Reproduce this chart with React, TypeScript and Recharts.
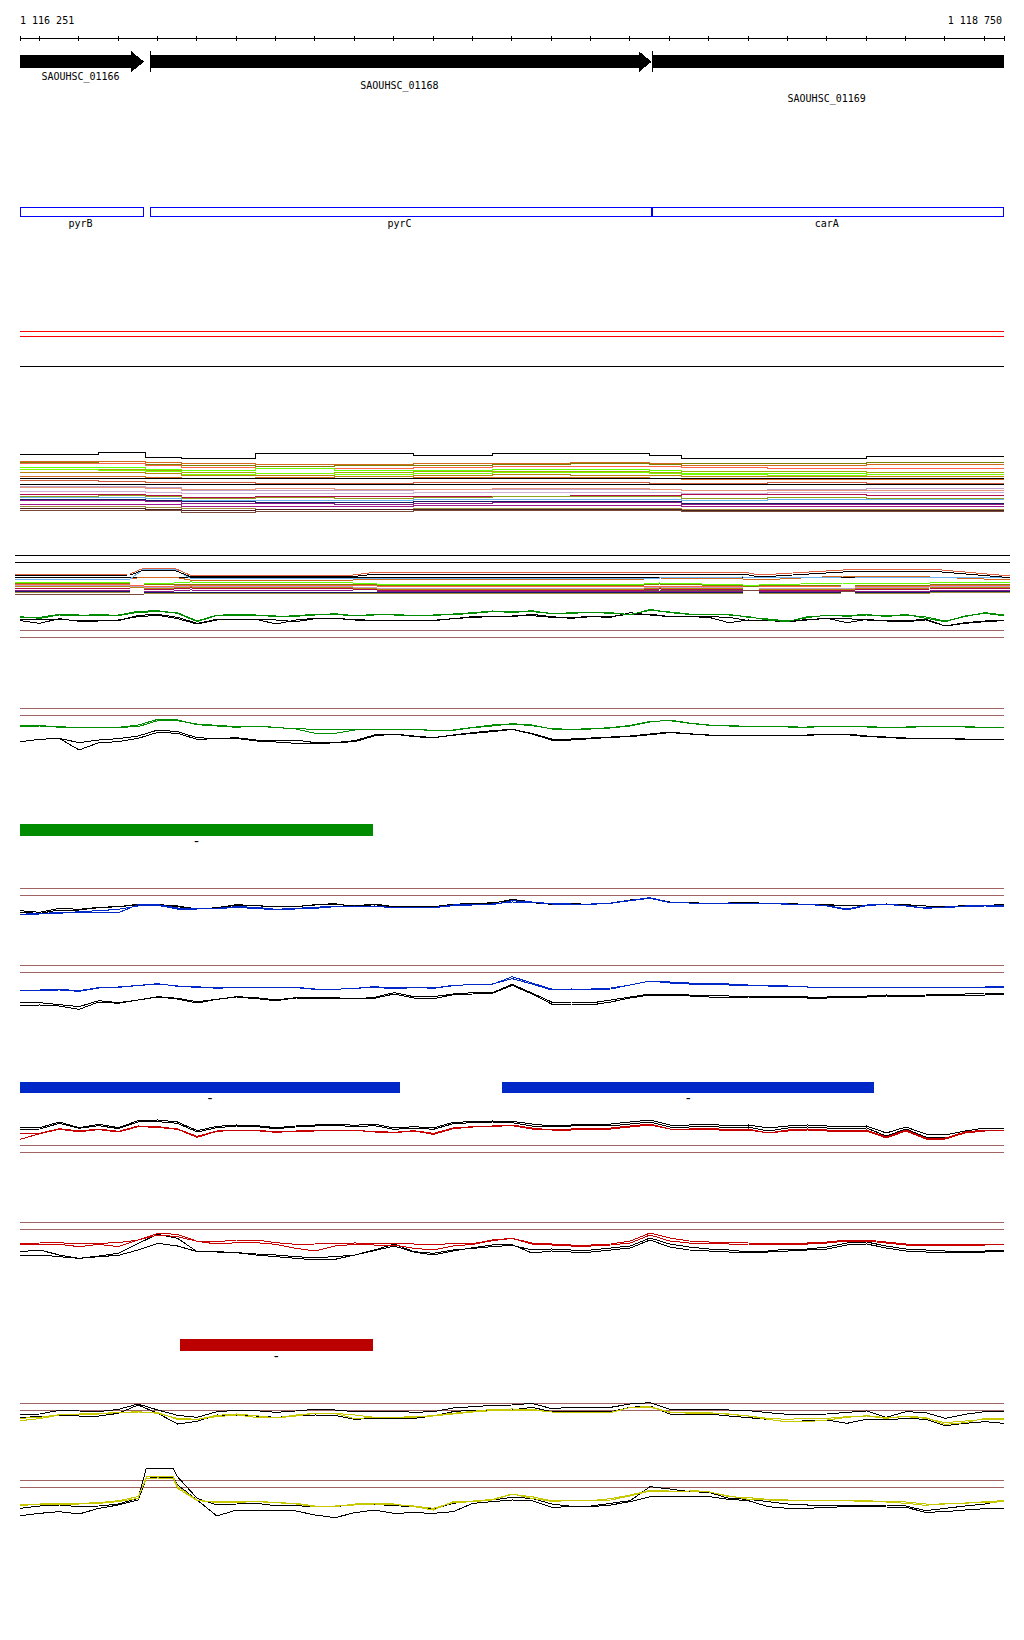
import React from 'react';
import { LineChart, Line, XAxis, YAxis, ReferenceLine, ReferenceArea } from 'recharts';

const START = 1116251;
const END = 1118750;
const WIDTH = 1024;

const BROWN = '#a06464';
const GREEN = '#008c00';
const BLUE = '#0028c8';
const RED = '#c80000';
const YELLOW = '#c8c800';

// ruler ticks (bp)
const RULER_TICKS = [START, ...Array.from({ length: 25 }, (_, i) => 1116300 + i * 100), END];

// genes
const GENE_IDS = ['SAOUHSC_01166', 'SAOUHSC_01168', 'SAOUHSC_01169'];
const GENE_SYMBOLS = ['pyrB', 'pyrC', 'carA'];
const GENE_STARTS = [1116251, 1116582, 1117857];
const GENE_ENDS = [1116566, 1117855, 1118750];
const GENE_LABEL_DY = [28.5, 37.5, 50.5];

// peak calls
const GREEN_PEAK_STARTS = [1116251];
const GREEN_PEAK_ENDS = [1117147];
const BLUE_PEAK_STARTS = [1116251, 1117475];
const BLUE_PEAK_ENDS = [1117216, 1118421];
const RED_PEAK_STARTS = [1116657];
const RED_PEAK_ENDS = [1117147];

// 50 bp bins
const BINS = Array.from({ length: 51 }, (_, i) => Math.min(START + i * 50, END));
const YEL2_POS = [...BINS.slice(0, 7), 1116572, BINS[7], 1116640, ...BINS.slice(8)];

// top thresholds
const TOP_LEVELS = [38.5, 33.5, 3.5];
const TOP_LEVEL_COLORS = ['#ff0000', '#ff0000', '#000000'];

// multi-sample track 1 (step positions)
const MC1_POS = [1116251, 1116450, 1116570, 1116660, 1116850, 1117050, 1117250, 1117450, 1117650, 1117850, 1117930, 1118150, 1118400, 1118750];
const mc1Black1 = [66, 68, 63, 62, 66.5, 66.5, 64.5, 66.5, 66.5, 65, 62, 62, 64, 64];
const mc1Chocolate = [59, 59, 58, 57, 56, 56, 57, 57, 58, 57, 55, 55, 56, 57];
const mc1Olive = [58, 57, 56, 55, 54, 55, 55, 56, 57, 56, 57, 57, 58, 58];
const mc1Tomato = [56.5, 56.5, 55, 53, 52, 52, 53, 54, 54, 54, 53, 52, 52, 53];
const mc1Green = [53, 53, 51, 50, 52, 50, 50, 51, 51, 50, 47, 47, 48, 48];
const mc1YellowGreen = [51, 51, 50, 48, 47, 48, 49, 49, 49, 48, 49, 49, 48, 48];
const mc1LawnGreen = [50.5, 50, 49, 46, 47, 46, 47, 48, 48, 47, 46, 45, 46, 46];
const mc1Goldenrod = [48, 48, 47, 45, 45, 44, 45, 46, 45, 45, 44, 44, 44, 45];
const mc1Sienna = [44, 44, 43, 42, 43, 42, 43, 43, 43, 42, 41, 41, 41, 41];
const mc1Black2 = [41.5, 41.5, 41.5, 41.5, 41.5, 41.5, 41.5, 41.5, 41.5, 41.5, 41.5, 41.5, 41.5, 41.5];
const mc1Rust = [39.5, 39, 38, 38, 37, 37, 38, 38, 38, 37, 37, 38, 37, 37];
const mc1Black3 = [35.5, 35.5, 35.5, 35.5, 35.5, 35.5, 35.5, 35.5, 35.5, 35.5, 35.5, 35.5, 35.5, 35.5];
const mc1Lavender = [34, 34, 33, 30, 30, 30, 31, 31, 31, 31, 30, 31, 32, 32];
const mc1Salmon = [33, 33, 32, 31, 32, 31, 31, 32, 32, 31, 30, 30, 30, 30];
const mc1Thistle = [29, 29, 28, 27, 27, 27, 28, 28, 28, 28, 27, 28, 28, 28];
const mc1Crimson = [26, 26, 25, 23, 24, 24, 24, 24, 25, 25, 26, 26, 25, 25];
const mc1Drab = [24, 25, 24, 22, 23, 22, 23, 24, 24, 24, 22, 23, 22, 23];
const mc1Sky = [22.5, 22.5, 22, 20, 20, 20, 21, 21, 21, 21, 20, 21, 21, 22];
const mc1Navy = [21, 21, 20, 19, 18, 18, 19, 19, 19, 19, 17, 17, 17, 18];
const mc1Purple = [20, 20, 19, 17, 17, 16, 17, 18, 18, 18, 16, 16, 16, 16];
const mc1Magenta = [16, 16, 16, 14, 14, 14, 15, 15, 15, 15, 14, 14, 14, 14];
const mc1Tan = [14, 14, 13, 12, 11, 11, 12, 12, 12, 12, 11, 11, 11, 11];
const mc1Maroon = [12, 12, 11, 10, 11, 11, 11, 11, 11, 11, 10, 10, 10, 10];
const mc1Brown = [10, 10, 9.5, 8, 9, 9, 10, 10, 10, 10, 9, 9, 9, 9];

// multi-sample track 2
const MC2_POS = [1116251, 1116540, 1116575, 1116650, 1116690, 1117100, 1117160, 1117830, 1117870, 1118080, 1118120, 1118330, 1118360, 1118550, 1118750];
const MC2_LEVELS = [49.5, 42.5];
const mc2Coral = [30.5, 31, 37, 37, 30, 30, 33, 33, 33, 33, 30, 35, 36, 36, 29];
const mc2Black1 = [29.5, 30, 35, 35, 28.5, 28.5, 31, 31, 31, 31, 28, 33, 34, 34, 27.3];
const mc2Sky = [26, 26, 36, 36, 27, 27, 27, 27, 27, 28, 27, 28, 28, 28, 27];
const mc2Black2 = [27.5, 27.5, 27.5, 27.5, 27.5, 27.5, 27.5, 27.5, 27.5, 27.5, 27.5, 27.5, 27.5, 27.5, 27.5];
const mc2Chocolate = [26, 26, 28, 28, 25, 25, 26, 26, 27, 26, 25, 29, 29, 28, 25];
const mc2Green = [23, 22, 22, 22, 23, 22, 21, 21, 22, 20, 20, 22, 22, 22, 23];
const mc2Olive = [22, 21, 21, 20, 21, 21, 20, 20, 21, 19, 19, 20, 20, 20, 21];
const mc2Tomato = [21, 20, 19, 19, 20, 20, 19, 19, 19, 18, 18, 19, 19, 19, 20];
const mc2Lavender = [20, 19, 18, 18, 19, 18, 17, 17, 18, 17, 17, 17, 17, 18, 19];
const mc2Goldenrod = [19, 18, 17, 17, 18, 17, 16, 16, 17, 16, 16, 16, 16, 17, 18];
const mc2Crimson = [17, 16, 16, 16, 17, 16, 15, 15, 16, 15, 15, 15, 15, 16, 17];
const mc2Purple = [15, 14, 14, 14, 15, 14, 14, 14, 14, 13, 13, 14, 14, 14, 15];
const mc2Navy = [14, 13, 13, 13, 13, 13, 13, 13, 13, 12, 12, 13, 13, 13, 14];
const mc2Tan = [13, 12, 12, 12, 12, 12, 12, 12, 12, 11, 11, 12, 12, 12, 13];
const mc2Brown = [11, 11, 11, 12, 13, 13, 13, 14, 15, 15, 14, 14, 14, 14, 14];

// green condition
const GREEN1_LEVELS = [43.5, 22.5];
const green1BlackA = [77, 75, 77, 73, 73, 73, 89, 92, 83, 65, 77, 78, 78, 75, 70, 79, 79, 77, 73, 73, 74, 74, 79, 85, 85, 87, 88, 83, 83, 85, 85, 93, 93, 85, 85, 85, 83, 73, 75, 70, 77, 79, 79, 75, 72, 73, 77, 57, 67, 72, 75];
const green1BlackB = [73, 65, 79, 71, 72, 75, 85, 89, 79, 63, 75, 77, 77, 63, 75, 80, 80, 75, 72, 73, 72, 73, 79, 83, 85, 85, 92, 85, 80, 85, 83, 97, 90, 85, 85, 83, 67, 75, 73, 70, 75, 80, 67, 77, 72, 70, 75, 57, 65, 70, 73];
const green1GreenA = [82, 83, 92, 90, 90, 90, 101, 103, 95, 70, 89, 92, 90, 85, 88, 92, 92, 87, 92, 90, 90, 88, 93, 97, 102, 97, 103, 93, 97, 97, 97, 90, 107, 97, 92, 92, 90, 85, 75, 70, 85, 88, 88, 92, 85, 92, 80, 70, 87, 95, 88];
const green1GreenB = [85, 80, 90, 88, 92, 88, 98, 100, 97, 72, 90, 90, 88, 87, 86, 90, 94, 88, 90, 92, 88, 90, 91, 95, 100, 99, 100, 95, 95, 98, 95, 92, 104, 99, 93, 90, 92, 83, 78, 72, 82, 90, 86, 90, 87, 90, 84, 72, 85, 97, 90];

const GREEN2_LEVELS = [154.5, 133.5];
const green2BlackA = [55, 62, 65, 52, 60, 64, 72, 90, 85, 67, 64, 67, 60, 60, 60, 52, 52, 58, 75, 78, 72, 67, 75, 82, 88, 92, 80, 63, 63, 66, 69, 72, 78, 84, 78, 75, 75, 75, 75, 75, 75, 78, 78, 72, 69, 66, 66, 66, 63, 63, 63];
const green2BlackB = [55, 62, 65, 30, 52, 55, 65, 83, 80, 62, 64, 65, 57, 54, 50, 48, 52, 55, 72, 78, 70, 67, 74, 80, 85, 92, 78, 60, 60, 64, 68, 70, 76, 82, 79, 74, 73, 74, 73, 74, 74, 77, 76, 70, 68, 64, 65, 64, 62, 61, 62];
const green2GreenA = [104, 104, 98, 97, 98, 98, 105, 122, 120, 106, 102, 98, 102, 97, 94, 92, 92, 92, 92, 92, 92, 89, 89, 97, 102, 109, 105, 93, 93, 93, 96, 102, 114, 120, 111, 105, 102, 102, 102, 99, 99, 102, 102, 99, 99, 99, 102, 102, 99, 99, 96];
const green2GreenB = [100, 102, 100, 97, 98, 98, 100, 118, 118, 108, 104, 100, 102, 98, 93, 80, 80, 90, 92, 92, 92, 88, 90, 98, 105, 108, 103, 94, 92, 94, 97, 104, 116, 118, 110, 104, 103, 101, 101, 100, 98, 101, 101, 100, 98, 98, 100, 101, 100, 98, 97];

// blue condition
const BLUE1_LEVELS = [109.5, 88.5];
const blue1BlackA = [43, 38, 50, 47, 53, 55, 60, 61, 57, 48, 52, 61, 58, 54, 55, 60, 62, 57, 63, 55, 55, 55, 62, 65, 65, 77, 69, 63, 63, 63, 66, 75, 81, 69, 66, 66, 66, 66, 66, 63, 63, 60, 57, 60, 63, 60, 57, 54, 57, 60, 60];
const blue1BlackB = [38, 35, 45, 45, 52, 55, 62, 62, 55, 48, 52, 59, 58, 55, 55, 61, 64, 55, 61, 53, 55, 55, 61, 63, 67, 73, 67, 62, 64, 62, 65, 73, 80, 68, 67, 65, 66, 67, 65, 64, 62, 61, 58, 60, 62, 61, 57, 55, 58, 59, 61];
const blue1BlueA = [30, 33, 35, 40, 43, 47, 57, 59, 48, 48, 50, 55, 53, 47, 50, 53, 57, 55, 57, 52, 52, 52, 58, 60, 61, 73, 69, 64, 63, 63, 66, 74, 82, 68, 66, 66, 66, 66, 66, 63, 63, 58, 48, 60, 63, 58, 51, 54, 57, 58, 57];
const blue1BlueB = [32, 35, 37, 38, 38, 37, 61, 61, 51, 48, 50, 52, 50, 45, 48, 50, 55, 57, 55, 53, 52, 52, 60, 61, 63, 69, 68, 63, 62, 62, 65, 73, 80, 67, 66, 65, 66, 65, 65, 62, 62, 57, 45, 58, 62, 57, 50, 53, 55, 57, 56];

const BLUE2_LEVELS = [163.5, 142.5];
const blue2BlackA = [52, 52, 46, 40, 58, 52, 60, 70, 65, 55, 62, 70, 67, 60, 67, 67, 67, 63, 68, 82, 70, 70, 78, 82, 82, 107, 81, 54, 54, 51, 60, 69, 78, 78, 75, 75, 72, 72, 72, 72, 69, 69, 72, 72, 75, 72, 75, 78, 78, 81, 81];
const blue2BlackB = [43, 45, 42, 32, 54, 50, 60, 69, 63, 51, 62, 69, 64, 58, 66, 65, 64, 63, 65, 78, 66, 64, 76, 78, 80, 104, 78, 48, 48, 45, 54, 66, 75, 75, 72, 69, 69, 69, 66, 69, 66, 66, 69, 69, 72, 69, 72, 75, 75, 75, 78];
const blue2BlueA = [90, 90, 92, 88, 97, 98, 104, 108, 102, 100, 95, 98, 98, 97, 97, 92, 92, 95, 100, 96, 98, 95, 103, 107, 107, 130, 111, 93, 93, 93, 96, 105, 117, 114, 111, 111, 108, 105, 105, 102, 99, 99, 99, 99, 99, 99, 99, 99, 99, 99, 102];
const blue2BlueB = [89, 89, 90, 86, 96, 99, 103, 109, 101, 98, 96, 98, 97, 97, 98, 93, 92, 95, 98, 94, 97, 96, 104, 106, 108, 124, 108, 90, 93, 90, 93, 105, 117, 111, 108, 108, 105, 105, 102, 102, 99, 99, 99, 99, 99, 99, 99, 99, 99, 99, 99];

// red condition
const RED1_LEVELS = [43.5, 22.5];
const red1BlackA = [96, 97, 114, 97, 107, 97, 118, 120, 114, 88, 101, 105, 103, 97, 102, 105, 108, 104, 108, 96, 100, 96, 113, 115, 117, 116, 108, 102, 105, 108, 108, 114, 120, 105, 105, 108, 102, 105, 96, 102, 105, 102, 99, 102, 81, 99, 78, 75, 87, 96, 96];
const red1BlackB = [92, 93, 110, 95, 103, 94, 114, 115, 110, 84, 97, 102, 100, 94, 99, 102, 104, 100, 103, 92, 96, 92, 109, 112, 114, 112, 102, 99, 102, 105, 102, 108, 114, 99, 99, 102, 96, 99, 87, 96, 99, 96, 93, 96, 72, 93, 69, 66, 81, 90, 90];
const red1RedA = [78, 80, 94, 87, 93, 86, 102, 100, 93, 71, 87, 90, 90, 84, 87, 88, 90, 88, 86, 83, 88, 80, 96, 100, 102, 105, 96, 90, 93, 96, 96, 102, 108, 93, 93, 96, 90, 93, 81, 90, 93, 90, 87, 90, 69, 90, 66, 66, 84, 90, 90];
const red1RedB = [62, 79, 92, 85, 91, 84, 100, 98, 92, 68, 86, 89, 88, 83, 86, 87, 89, 89, 84, 82, 87, 77, 94, 99, 101, 103, 93, 90, 90, 93, 93, 99, 105, 93, 90, 93, 87, 90, 81, 87, 90, 87, 84, 87, 66, 87, 63, 63, 81, 87, 90];

const RED2_LEVELS = [142.5, 121.5];
const red2BlackA = [55, 60, 45, 35, 42, 50, 80, 107, 95, 55, 55, 52, 48, 45, 40, 37, 40, 45, 60, 78, 55, 50, 60, 65, 70, 74, 60, 63, 60, 60, 66, 72, 96, 78, 69, 63, 60, 54, 57, 63, 63, 69, 81, 84, 72, 63, 60, 57, 57, 57, 60];
const red2BlackB = [45, 45, 40, 35, 40, 44, 60, 80, 72, 55, 54, 52, 45, 40, 35, 30, 32, 45, 58, 72, 54, 45, 57, 67, 75, 76, 51, 57, 54, 54, 60, 66, 90, 69, 60, 57, 54, 51, 54, 57, 60, 63, 75, 78, 66, 57, 54, 54, 54, 54, 57];
const red2RedA = [80, 81, 82, 78, 80, 82, 90, 110, 107, 86, 85, 90, 90, 82, 77, 78, 80, 81, 80, 80, 78, 75, 80, 79, 90, 95, 81, 78, 75, 75, 78, 87, 111, 96, 87, 84, 84, 81, 78, 81, 81, 84, 90, 90, 84, 78, 75, 78, 78, 78, 78];
const red2RedB = [75, 76, 77, 70, 77, 70, 90, 105, 100, 86, 78, 82, 82, 77, 65, 57, 72, 77, 75, 75, 65, 60, 72, 77, 88, 95, 78, 75, 72, 72, 75, 81, 105, 87, 81, 81, 78, 78, 75, 78, 78, 81, 87, 87, 81, 75, 72, 75, 75, 75, 78];

// yellow condition
const YEL1_LEVELS = [94.5, 73.5];
const yel1BlackA = [60, 63, 74, 72, 70, 77, 93, 75, 59, 53, 70, 74, 73, 68, 72, 77, 75, 70, 72, 72, 68, 70, 81, 85, 89, 90, 95, 79, 83, 83, 83, 93, 97, 77, 77, 77, 75, 73, 67, 62, 62, 63, 68, 72, 53, 70, 67, 50, 62, 70, 70];
const yel1BlackB = [53, 55, 59, 57, 57, 65, 90, 65, 33, 41, 60, 59, 57, 53, 57, 60, 59, 47, 50, 50, 50, 57, 70, 75, 75, 75, 83, 70, 70, 70, 70, 83, 87, 63, 63, 63, 57, 52, 47, 39, 43, 45, 35, 47, 45, 50, 47, 28, 35, 40, 35];
const yel1YelA = [43, 49, 60, 63, 65, 67, 70, 65, 50, 47, 59, 63, 58, 51, 57, 65, 65, 49, 53, 53, 53, 59, 65, 71, 77, 78, 77, 69, 67, 67, 68, 83, 83, 68, 68, 67, 62, 57, 50, 47, 50, 50, 55, 57, 50, 57, 52, 32, 37, 50, 50];
const yel1YelB = [50, 53, 61, 63, 63, 67, 69, 67, 47, 47, 55, 60, 53, 51, 60, 65, 65, 60, 53, 53, 55, 57, 63, 69, 73, 75, 75, 69, 67, 67, 67, 83, 85, 69, 65, 65, 63, 57, 47, 39, 40, 45, 53, 58, 52, 55, 50, 37, 42, 47, 47];

const YEL2_LEVELS = [148.5, 127.5];
const yel2BlackA = [65, 72, 75, 70, 72, 78, 95, 186, 186, 184, 160, 95, 75, 78, 80, 73, 73, 70, 70, 77, 77, 73, 70, 63, 80, 87, 90, 98, 95, 78, 71, 72, 80, 88, 130, 123, 115, 113, 95, 92, 85, 78, 75, 75, 75, 75, 75, 72, 58, 65, 72, 78, 90];
const yel2BlackB = [43, 50, 55, 48, 65, 75, 90, 155, 158, 158, 135, 90, 42, 60, 60, 60, 57, 45, 37, 52, 60, 50, 52, 50, 55, 80, 85, 90, 88, 68, 70, 70, 75, 85, 100, 100, 100, 100, 92, 88, 70, 65, 65, 68, 70, 70, 69, 68, 53, 55, 60, 64, 65];
const yel2YelA = [75, 78, 78, 78, 80, 85, 95, 160, 162, 160, 130, 90, 82, 83, 85, 82, 80, 72, 72, 75, 78, 76, 72, 65, 82, 85, 90, 107, 100, 88, 88, 88, 90, 102, 117, 117, 117, 115, 100, 97, 92, 90, 90, 90, 90, 88, 85, 84, 78, 78, 81, 82, 85];
const yel2YelB = [73, 78, 80, 80, 82, 88, 100, 155, 156, 155, 125, 88, 84, 85, 87, 82, 78, 70, 70, 78, 80, 78, 70, 60, 85, 87, 92, 108, 95, 86, 88, 88, 94, 105, 119, 120, 120, 114, 102, 92, 90, 88, 88, 88, 88, 85, 84, 80, 74, 80, 80, 85, 88];

type SeriesDef = { values: number[]; color: string };
const EDGE_DATA = [{ pos: START }, { pos: END }];
const MARGIN = { top: 0, right: 20, bottom: 0, left: 20 };

const formatBp = (v: number) => String(v).replace(/\B(?=(\d{3})+(?!\d))/g, ' ');

function Ruler() {
  const renderTick = (p: any) => {
    const v = p.payload.value;
    const edge = v === START || v === END;
    return (
      <g>
        <line x1={p.x} x2={p.x} y1={p.y - 2.5} y2={p.y + 2.5} stroke="#000" />
        {edge && (
          <text x={v === START ? p.x : p.x - 2} y={p.y - 14.5} textAnchor={v === START ? 'start' : 'end'} fontSize={10} fill="#000">
            {formatBp(v)}
          </text>
        )}
      </g>
    );
  };
  return (
    <div style={{ position: 'absolute', top: 0, left: 0 }}>
      <LineChart width={WIDTH} height={60} data={EDGE_DATA} margin={MARGIN}>
        <XAxis dataKey="pos" type="number" domain={[START, END]} ticks={RULER_TICKS} interval={0} height={21.5}
          tickSize={0} tickMargin={0} tickLine={false} axisLine={{ stroke: '#000' }} tick={renderTick} allowDataOverflow />
        <YAxis type="number" domain={[0, 1]} hide allowDataOverflow />
      </LineChart>
    </div>
  );
}

function GeneTrack() {
  return (
    <div style={{ position: 'absolute', top: 51, left: 0 }}>
      <LineChart width={WIDTH} height={60} data={EDGE_DATA} margin={MARGIN}>
        <XAxis dataKey="pos" type="number" domain={[START, END]} hide allowDataOverflow />
        <YAxis type="number" domain={[0, 60]} hide allowDataOverflow />
        {GENE_IDS.map((name, j) => {
          const arrow = GENE_ENDS[j] < END;
          const mark = GENE_STARTS[j] > START;
          return (
            <ReferenceArea key={name} x1={GENE_STARTS[j]} x2={GENE_ENDS[j]} y1={38} y2={60} ifOverflow="visible"
              shape={(p: any) => {
                const head = arrow ? 13 : 0;
                const x2 = p.x + p.width;
                return (
                  <g>
                    {mark && <line x1={p.x} x2={p.x} y1={p.y} y2={p.y + 21.3} stroke="#000" />}
                    <rect x={p.x} y={p.y + 4} width={p.width - head} height={13.3} fill="#000" />
                    {arrow && <polygon points={`${x2 - head},${p.y} ${x2},${p.y + 10.7} ${x2 - head},${p.y + 21.3}`} fill="#000" />}
                    <text x={p.x + p.width / 2 - 1.5} y={p.y + GENE_LABEL_DY[j]} textAnchor="middle" fontSize={10} fill="#000">{name}</text>
                  </g>
                );
              }} />
          );
        })}
      </LineChart>
    </div>
  );
}

function SymbolTrack() {
  return (
    <div style={{ position: 'absolute', top: 200, left: 0 }}>
      <LineChart width={WIDTH} height={35} data={EDGE_DATA} margin={MARGIN}>
        <XAxis dataKey="pos" type="number" domain={[START, END]} hide allowDataOverflow />
        <YAxis type="number" domain={[0, 35]} hide allowDataOverflow />
        {GENE_SYMBOLS.map((sym, j) => (
          <ReferenceArea key={sym} x1={GENE_STARTS[j]} x2={GENE_ENDS[j]} y1={0} y2={35} ifOverflow="visible"
            shape={(p: any) => (
              <g>
                <rect x={p.x + 0.5} y={p.y + 7.5} width={p.width - 1} height={9} fill="none" stroke="#0000ff" />
                <text x={p.x + p.width / 2 - 1.5} y={p.y + 27.3} textAnchor="middle" fontSize={10} fill="#000">{sym}</text>
              </g>
            )} />
        ))}
      </LineChart>
    </div>
  );
}

function PeakTrack({ top, barHeight, starts, ends, color }: { top: number; barHeight: number; starts: number[]; ends: number[]; color: string }) {
  const H = 24;
  return (
    <div style={{ position: 'absolute', top, left: 0 }}>
      <LineChart width={WIDTH} height={H} data={EDGE_DATA} margin={MARGIN}>
        <XAxis dataKey="pos" type="number" domain={[START, END]} hide allowDataOverflow />
        <YAxis type="number" domain={[0, H]} hide allowDataOverflow />
        {starts.map((s, j) => (
          <ReferenceArea key={j} x1={s} x2={ends[j]} y1={H - barHeight} y2={H} ifOverflow="visible"
            shape={(p: any) => (
              <g>
                <rect x={p.x} y={p.y} width={p.width} height={p.height} fill={color} />
                <text x={p.x + p.width / 2} y={p.y + p.height + 9.5} textAnchor="middle" fontSize={14} fill="#000">-</text>
              </g>
            )} />
        ))}
      </LineChart>
    </div>
  );
}

function SignalTrack({
  top, height, yMax, positions, series, levels = [], levelColors, curve = 'linear', left = 20, right = 20,
}: {
  top: number; height: number; yMax: number; positions: number[]; series: SeriesDef[];
  levels?: number[]; levelColors?: string[]; curve?: 'linear' | 'stepAfter'; left?: number; right?: number;
}) {
  const data = positions.map((pos, k) => {
    const row: Record<string, number> = { pos };
    series.forEach((s, j) => { row['s' + j] = s.values[k]; });
    return row;
  });
  return (
    <div style={{ position: 'absolute', top, left: 0 }}>
      <LineChart width={WIDTH} height={height} data={data} margin={{ top: 0, right, bottom: 0, left }}>
        <XAxis dataKey="pos" type="number" domain={[START, END]} hide allowDataOverflow />
        <YAxis type="number" domain={[0, yMax]} hide allowDataOverflow />
        {levels.map((y, j) => (
          <ReferenceLine key={'lvl' + j} y={y} stroke={levelColors ? levelColors[j] : BROWN} strokeWidth={1} />
        ))}
        {series.map((s, j) => (
          <Line key={'s' + j} dataKey={'s' + j} type={curve} stroke={s.color} strokeWidth={1}
            dot={false} activeDot={false} isAnimationActive={false} />
        ))}
      </LineChart>
    </div>
  );
}

const mc1Series: SeriesDef[] = [
  { values: mc1Black1, color: '#000000' },
  { values: mc1Chocolate, color: '#d2691e' },
  { values: mc1Olive, color: '#808000' },
  { values: mc1Tomato, color: '#ff6347' },
  { values: mc1Green, color: '#66ff00' },
  { values: mc1YellowGreen, color: '#a0b000' },
  { values: mc1LawnGreen, color: '#7cfc00' },
  { values: mc1Goldenrod, color: '#b8860b' },
  { values: mc1Sienna, color: '#d2691e' },
  { values: mc1Black2, color: '#000000' },
  { values: mc1Rust, color: '#cd5c3c' },
  { values: mc1Black3, color: '#000000' },
  { values: mc1Lavender, color: '#c0a0c8' },
  { values: mc1Salmon, color: '#e9967a' },
  { values: mc1Thistle, color: '#d0b0d8' },
  { values: mc1Crimson, color: '#b0104a' },
  { values: mc1Drab, color: '#8fa020' },
  { values: mc1Sky, color: '#6ab4f0' },
  { values: mc1Navy, color: '#1a1a60' },
  { values: mc1Purple, color: '#8b1a8b' },
  { values: mc1Magenta, color: '#a0188c' },
  { values: mc1Tan, color: '#a08c3c' },
  { values: mc1Maroon, color: '#4a2020' },
  { values: mc1Brown, color: '#7a4a3a' },
];

const mc2Series: SeriesDef[] = [
  { values: mc2Black2, color: '#000000' },
  { values: mc2Brown, color: '#7a4a3a' },
  { values: mc2Tan, color: '#a08c3c' },
  { values: mc2Navy, color: '#1a1a60' },
  { values: mc2Purple, color: '#8b1a8b' },
  { values: mc2Crimson, color: '#b0104a' },
  { values: mc2Goldenrod, color: '#b8860b' },
  { values: mc2Lavender, color: '#c0a0c8' },
  { values: mc2Tomato, color: '#ff6347' },
  { values: mc2Olive, color: '#808000' },
  { values: mc2Green, color: '#66ff00' },
  { values: mc2Chocolate, color: '#d2691e' },
  { values: mc2Sky, color: '#6ab4f0' },
  { values: mc2Black1, color: '#000000' },
  { values: mc2Coral, color: '#e06040' },
];

const pair = (a: number[], b: number[], c: number[], d: number[], color: string): SeriesDef[] => [
  { values: a, color: '#000000' },
  { values: b, color: '#000000' },
  { values: c, color },
  { values: d, color },
];

export default function App() {
  return (
    <div style={{
      position: 'absolute', top: 0, left: 0, width: 1024, height: 1640, background: '#fff',
      fontFamily: '"DejaVu Sans Mono", monospace', shapeRendering: 'crispEdges',
    }}>
      <Ruler />
      <GeneTrack />
      <SymbolTrack />
      <SignalTrack top={320} height={50} yMax={50} positions={[START, END]} series={[]} levels={TOP_LEVELS} levelColors={TOP_LEVEL_COLORS} />
      <SignalTrack top={440} height={80} yMax={80} positions={MC1_POS} series={mc1Series} curve="stepAfter" />
      <SignalTrack top={545} height={60} yMax={60} positions={MC2_POS} series={mc2Series} levels={MC2_LEVELS} levelColors={['#000000', '#000000']} left={15} right={14} />
      <SignalTrack top={600} height={45} yMax={135} positions={BINS} series={pair(green1BlackA, green1BlackB, green1GreenA, green1GreenB, GREEN)} levels={GREEN1_LEVELS} />
      <SignalTrack top={700} height={60} yMax={180} positions={BINS} series={pair(green2BlackA, green2BlackB, green2GreenA, green2GreenB, GREEN)} levels={GREEN2_LEVELS} />
      <PeakTrack top={824} barHeight={12} starts={GREEN_PEAK_STARTS} ends={GREEN_PEAK_ENDS} color={GREEN} />
      <SignalTrack top={880} height={45} yMax={135} positions={BINS} series={pair(blue1BlackA, blue1BlackB, blue1BlueA, blue1BlueB, BLUE)} levels={BLUE1_LEVELS} />
      <SignalTrack top={955} height={65} yMax={195} positions={BINS} series={pair(blue2BlackA, blue2BlackB, blue2BlueA, blue2BlueB, BLUE)} levels={BLUE2_LEVELS} />
      <PeakTrack top={1082} barHeight={11} starts={BLUE_PEAK_STARTS} ends={BLUE_PEAK_ENDS} color={BLUE} />
      <SignalTrack top={1100} height={60} yMax={180} positions={BINS} series={pair(red1BlackA, red1BlackB, red1RedA, red1RedB, RED)} levels={RED1_LEVELS} />
      <SignalTrack top={1210} height={60} yMax={180} positions={BINS} series={pair(red2BlackA, red2BlackB, red2RedA, red2RedB, RED)} levels={RED2_LEVELS} />
      <PeakTrack top={1339} barHeight={12} starts={RED_PEAK_STARTS} ends={RED_PEAK_ENDS} color="#bb0000" />
      <SignalTrack top={1390} height={45} yMax={135} positions={BINS} series={pair(yel1BlackA, yel1BlackB, yel1YelA, yel1YelB, YELLOW)} levels={YEL1_LEVELS} />
      <SignalTrack top={1455} height={75} yMax={225} positions={YEL2_POS} series={pair(yel2BlackA, yel2BlackB, yel2YelA, yel2YelB, YELLOW)} levels={YEL2_LEVELS} />
    </div>
  );
}
